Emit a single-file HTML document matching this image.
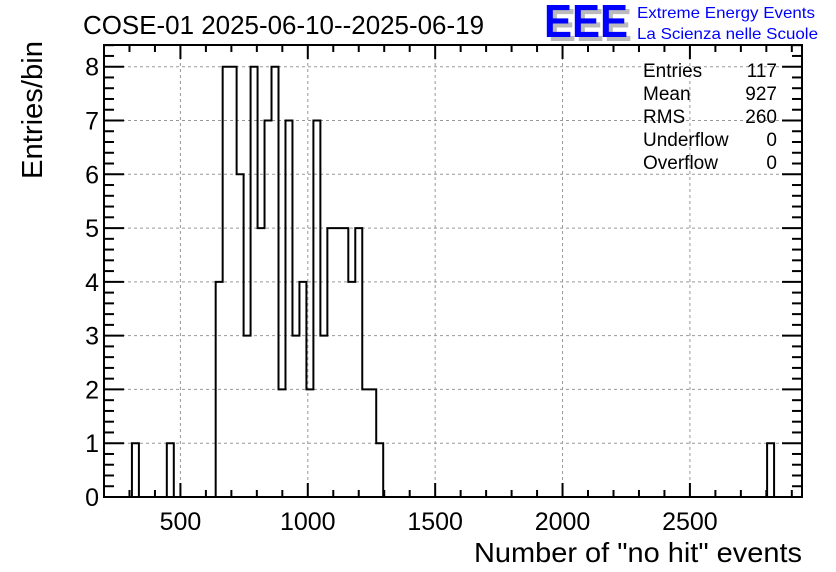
<!DOCTYPE html>
<html><head><meta charset="utf-8"><style>
html,body{margin:0;padding:0;background:#fff}
svg{display:block;font-family:"Liberation Sans",Arial,sans-serif}
</style></head><body>
<svg id="chart" width="836" height="572" viewBox="0 0 836 572">
<rect x="0" y="0" width="836" height="572" fill="#fff"/>
<text x="83" y="34" font-size="26" fill="#000" textLength="401" lengthAdjust="spacingAndGlyphs">COSE-01 2025-06-10--2025-06-19</text>
<g>
<text x="548" y="41" font-size="46" font-weight="bold" fill="#bbb" textLength="84" lengthAdjust="spacingAndGlyphs">EEE</text>
<text x="544" y="37" font-size="46" font-weight="bold" fill="#0000ff" textLength="84" lengthAdjust="spacingAndGlyphs">EEE</text>
<text x="637" y="18" font-size="16" fill="#0000ff" textLength="178" lengthAdjust="spacingAndGlyphs">Extreme Energy Events</text>
<text x="637" y="39" font-size="16" fill="#0000ff" textLength="181" lengthAdjust="spacingAndGlyphs">La Scienza nelle Scuole</text>
</g>
<g id="grid"></g>
<g id="ticks"></g>
<path id="hist" fill="none" stroke="#000" stroke-width="2"/>
<rect x="104" y="45" width="698" height="452" fill="none" stroke="#000" stroke-width="2"/>
<g id="labels" font-size="25"></g>
<text x="802" y="562" font-size="28" text-anchor="end" textLength="328" lengthAdjust="spacingAndGlyphs">Number of "no hit" events</text>
<text transform="translate(42,110) rotate(-90)" font-size="29" text-anchor="middle" textLength="138" lengthAdjust="spacingAndGlyphs">Entries/bin</text>
<g font-size="19">
<text x="643" y="77">Entries</text><text x="777" y="77" text-anchor="end">117</text>
<text x="643" y="100">Mean</text><text x="777" y="100" text-anchor="end">927</text>
<text x="643" y="123">RMS</text><text x="777" y="123" text-anchor="end">260</text>
<text x="643" y="146">Underflow</text><text x="777" y="146" text-anchor="end">0</text>
<text x="643" y="169">Overflow</text><text x="777" y="169" text-anchor="end">0</text>
</g>
</svg>
<script>
const binStarts = [4, 9, 16, 17, 18, 19, 20, 21, 22, 23, 24, 25, 26, 27, 28, 29, 30, 31, 32, 33, 34, 35, 36, 37, 38, 39, 95];
const binCounts = [1, 1, 4, 8, 8, 6, 3, 8, 5, 7, 8, 2, 7, 3, 4, 2, 7, 3, 5, 5, 5, 4, 5, 2, 2, 1, 1];
const xTickLabels = [500, 1000, 1500, 2000, 2500];
const yTickLabels = [0, 1, 2, 3, 4, 5, 6, 7, 8];
const xMin = 200, xMax = 2940, nBins = 100, yMax = 8.4;
const L = 104, R = 802, T = 45, B = 497;
const binW = (xMax - xMin) / nBins;
const yUnit = (B - 66.7) / 8;
const X = v => L + (v - xMin) / (xMax - xMin) * (R - L);
const Y = v => B - v * yUnit;
const NS = 'http://www.w3.org/2000/svg';
function mk(tag, parent, attrs) {
  const e = document.createElementNS(NS, tag);
  for (const k in attrs) e.setAttribute(k, attrs[k]);
  parent.appendChild(e); return e;
}
const counts = new Array(nBins).fill(0);
binStarts.forEach((b, i) => counts[b] = binCounts[i]);
let d = 'M' + X(xMin) + ',' + Y(0);
let prev = 0;
for (let i = 0; i < nBins; i++) {
  const x0 = X(xMin + i * binW), x1 = X(xMin + (i + 1) * binW);
  if (counts[i] !== prev) d += ' L' + x0 + ',' + Y(counts[i]);
  d += ' L' + x1 + ',' + Y(counts[i]);
  prev = counts[i];
}
document.getElementById('hist').setAttribute('d', d);
const grid = document.getElementById('grid');
const ticks = document.getElementById('ticks');
const labels = document.getElementById('labels');
xTickLabels.forEach(v => {
  const gl = mk('line', grid, {x1: X(v), x2: X(v), y1: T, y2: B, stroke: '#999', 'stroke-dasharray': '3,3', 'stroke-width': 1});
  
  
  const t = mk('text', labels, {x: X(v), y: 530, 'text-anchor': 'middle'});
  t.textContent = v;
  
  
});
for (let v = 300; v <= 2900; v += 100) {
  const len = v % 500 === 0 ? 14 : 7;
  mk('line', ticks, {x1: X(v), x2: X(v), y1: B, y2: B - len, stroke: '#000', 'stroke-width': 2});
  mk('line', ticks, {x1: X(v), x2: X(v), y1: T, y2: T + len, stroke: '#000', 'stroke-width': 2});
}
yTickLabels.forEach(v => {
  if (v > 0) {
    const gl = mk('line', grid, {x1: L, x2: R, y1: Y(v), y2: Y(v), stroke: '#999', 'stroke-dasharray': '3,3', 'stroke-width': 1});
    
    
  }
  const t = mk('text', labels, {x: 99, y: Y(v) + 9, 'text-anchor': 'end'});
  t.textContent = v;
  
  
});
for (let k = 0; k <= 42; k++) {
  const v = k / 5; if (v > yMax) break;
  const y = Y(v);
  if (y < T) break;
  const len = k % 5 === 0 ? 20 : 10;
  mk('line', ticks, {x1: L, x2: L + len, y1: y, y2: y, stroke: '#000', 'stroke-width': 2});
  mk('line', ticks, {x1: R, x2: R - len, y1: y, y2: y, stroke: '#000', 'stroke-width': 2});
}
</script>
</body></html>
